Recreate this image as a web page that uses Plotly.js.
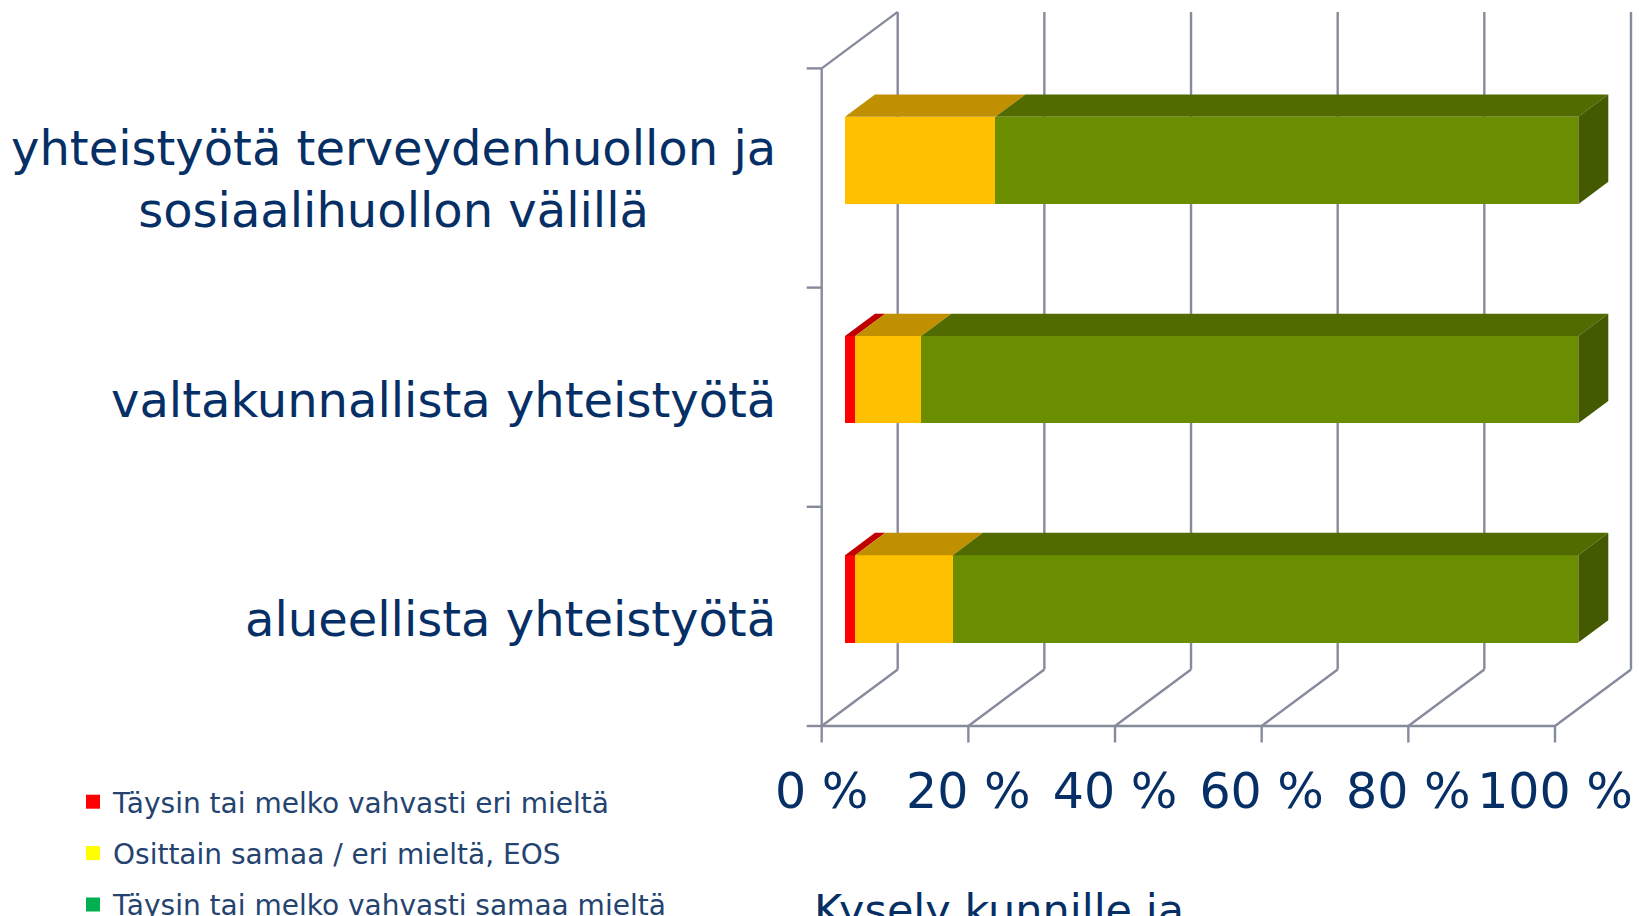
<!DOCTYPE html>
<html>
<head>
<meta charset="utf-8">
<script src="https://cdn.plot.ly/plotly-3.0.1.min.js"></script>
<style>
  html, body { margin: 0; padding: 0; background: #ffffff; }
  #chart { width: 1639px; height: 916px; }
</style>
</head>
<body>
<div id="chart"></div>
<script>
// ---------------- data ----------------
const categories = [
  'alueellista yhteistyötä',
  'valtakunnallista yhteistyötä',
  'yhteistyötä terveydenhuollon ja<br>sosiaalihuollon välillä'
];
const seriesNames = [
  'Täysin tai melko vahvasti eri mieltä',
  'Osittain samaa / eri mieltä, EOS',
  'Täysin tai melko vahvasti samaa mieltä'
];
const disagree = [1.4, 1.4, 0];
const partly   = [13.3, 9.0, 20.5];
const agree    = [85.3, 89.6, 79.5];
const tickVals = [0, 20, 40, 60, 80, 100];
const tickText = ['0 %', '20 %', '40 %', '60 %', '80 %', '100 %'];
const footText = 'Kysely kunnille ja';

// ---------------- styles / geometry ----------------
const W = 1639, H = 916;
const FONT = '"DejaVu Sans", Verdana, sans-serif';
const NAVY = '#062f66';
const GRID = '#868b9c';
const frontColors = ['#ff0000', '#ffc000', '#6b8e00'];
const topColors   = ['#c00000', '#c09000', '#526b00'];
const sideColor   = '#445a00';
const legendColors = ['#ff0000', '#ffff00', '#00b050'];

const PX0 = 821.7, PPU_X = 7.333;   // pixel of 0 % on the front plane, px per percent
const PY0 = 726,   PPU_Y = 219.2;   // pixel of the front floor, px per category slot
const DOM_L = 800, DOM_R = 1639, DOM_T = 4, DOM_B = 748;
const DX = 76 / PPU_X, DY = 56.5 / PPU_Y;      // depth of the whole box
const BX = 23.3 / PPU_X, BY = 17.5 / PPU_Y;    // bar front plane offset
const BDX = 30 / PPU_X, BDY = 22.4 / PPU_Y;    // bar depth
const BAR_H = 87.3 / PPU_Y;
const TICK_X = 15 / PPU_X, TICK_Y = 16.5 / PPU_Y;

const xr = [(DOM_L - PX0) / PPU_X, (DOM_R - PX0) / PPU_X];
const yr = [-0.5 - (DOM_B - PY0) / PPU_Y, -0.5 + (PY0 - DOM_T) / PPU_Y];
const nCat = categories.length;
const pos = categories.map((c, i) => i);
const series = [disagree, partly, agree];

// ---------------- traces ----------------
const traces = [];
// front faces: stacked bars on the shifted "bar plane" axes
series.forEach((vals, k) => {
  traces.push({
    type: 'bar', orientation: 'h', name: seriesNames[k],
    x: vals, y: pos, xaxis: 'x2', yaxis: 'y2',
    width: BAR_H,
    marker: { color: frontColors[k], line: { width: 0 } },
    showlegend: false, hoverinfo: 'x'
  });
});
// top faces and right side faces built from the cumulative values
series.forEach((vals, k) => {
  const xs = [], ys = [];
  pos.forEach((p, i) => {
    let s = 0;
    for (let j = 0; j < k; j++) s += series[j][i];
    const e = s + vals[i];
    if (vals[i] <= 0) return;
    const yt = p + BAR_H / 2;
    xs.push(s, e, e + BDX, s + BDX, s, null);
    ys.push(yt, yt, yt + BDY, yt + BDY, yt, null);
  });
  traces.push({
    type: 'scatter', mode: 'lines', x: xs, y: ys, xaxis: 'x2', yaxis: 'y2',
    fill: 'toself', fillcolor: topColors[k], line: { width: 0, color: topColors[k] },
    hoverinfo: 'skip', showlegend: false
  });
});
(function () {
  const xs = [], ys = [];
  pos.forEach((p, i) => {
    let e = 0;
    series.forEach(v => { e += v[i]; });
    const yt = p + BAR_H / 2, yb = p - BAR_H / 2;
    xs.push(e, e, e + BDX, e + BDX, e, null);
    ys.push(yb, yt, yt + BDY, yb + BDY, yb, null);
  });
  traces.push({
    type: 'scatter', mode: 'lines', x: xs, y: ys, xaxis: 'x2', yaxis: 'y2',
    fill: 'toself', fillcolor: sideColor, line: { width: 0, color: sideColor },
    hoverinfo: 'skip', showlegend: false
  });
})();
// legend entries
seriesNames.forEach((n, k) => {
  traces.push({
    type: 'scatter', mode: 'markers', x: [null], y: [null], name: n,
    legendgroup: 'g' + k,
    marker: { symbol: 'square', size: 14, color: legendColors[k] },
    hoverinfo: 'skip'
  });
});

// ---------------- box frame (3-D walls) ----------------
const shapes = [];
const ln = (x0, y0, x1, y1) => ({
  type: 'line', xref: 'x', yref: 'y', x0, y0, x1, y1, layer: 'below',
  line: { color: GRID, width: 2.4 }
});
const yBottom = -0.5, yTop = nCat - 0.5;
tickVals.forEach(t => {
  shapes.push(ln(t + DX, yBottom + DY, t + DX, yTop + DY));     // back wall grid
  shapes.push(ln(t, yBottom, t + DX, yBottom + DY));              // floor diagonal
  shapes.push(ln(t, yBottom, t, yBottom - TICK_Y));               // x tick
});
shapes.push(ln(0, yBottom, tickVals[tickVals.length - 1], yBottom)); // front floor edge
shapes.push(ln(0, yBottom, 0, yTop));                                // front left edge
shapes.push(ln(0, yTop, DX, yTop + DY));                             // side wall top edge
for (let b = yBottom; b <= yTop + 1e-9; b += 1) shapes.push(ln(-TICK_X, b, 0, b));

// ---------------- annotations ----------------
const annotations = categories.map((c, i) => ({
  text: c, xref: 'paper', yref: 'y', x: 778 / W, y: i,
  xanchor: 'right', yanchor: 'middle', align: 'center', showarrow: false,
  yshift: c.indexOf('<br>') >= 0 ? -1 : -3,
  font: { family: FONT, size: 48, color: NAVY }
}));
annotations.push({
  text: footText, xref: 'paper', yref: 'paper', x: 812 / W, y: 1 - 883 / H,
  xanchor: 'left', yanchor: 'top', showarrow: false,
  font: { family: FONT, size: 43, color: NAVY }
});

const layout = {
  width: W, height: H,
  margin: { l: 0, r: 0, t: 0, b: 0, autoexpand: false },
  paper_bgcolor: '#ffffff', plot_bgcolor: 'rgba(0,0,0,0)',
  barmode: 'stack',
  showlegend: true,
  legend: {
    x: 73 / W, y: 1 - 777 / H, xanchor: 'left', yanchor: 'top',
    font: { family: FONT, size: 28, color: '#24446f' },
    bgcolor: 'rgba(0,0,0,0)', borderwidth: 0, tracegroupgap: 12,
    traceorder: 'grouped'
  },
  xaxis: {
    domain: [DOM_L / W, DOM_R / W], range: xr, fixedrange: true,
    showgrid: false, zeroline: false, showline: false, ticks: '',
    tickmode: 'array', tickvals: tickVals, ticktext: tickText,
    tickfont: { family: FONT, size: 49, color: NAVY }, ticklabelstandoff: 10
  },
  yaxis: {
    domain: [1 - DOM_B / H, 1 - DOM_T / H], range: yr, fixedrange: true,
    showgrid: false, zeroline: false, showline: false, ticks: '', showticklabels: false
  },
  xaxis2: {
    overlaying: 'x', anchor: 'y2', range: [xr[0] - BX, xr[1] - BX],
    visible: false, fixedrange: true
  },
  yaxis2: {
    overlaying: 'y', anchor: 'x2', range: [yr[0] - BY, yr[1] - BY],
    visible: false, fixedrange: true
  },
  shapes: shapes,
  annotations: annotations
};

Plotly.newPlot('chart', traces, layout, { displayModeBar: false, staticPlot: true });
</script>
</body>
</html>
